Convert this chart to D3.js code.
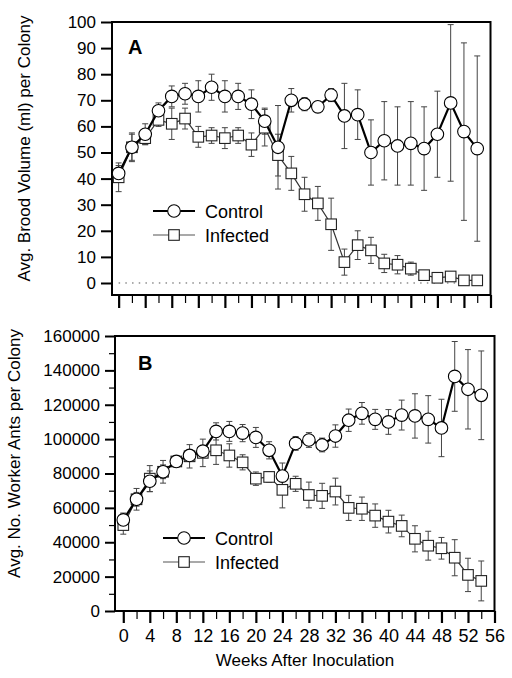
<!DOCTYPE html>
<html><head><meta charset="utf-8">
<script src="https://cdn.jsdelivr.net/npm/d3@7"></script>
<style>body{margin:0;background:#fff}svg{display:block}text{font-family:"Liberation Sans",Arial,sans-serif;fill:#000}</style>
</head><body><svg id="c" width="512" height="678"></svg>
<script>
const weeks = [0,2,4,6,8,10,12,14,16,18,20,22,24,26,28,30,32,34,36,38,40,42,44,46,48,50,52,54];
const broodControl = [42,52,57,66,71.5,72.5,71.5,75,71.5,71.5,68.5,62,52,70,68.5,67.5,72,64,64.5,50,54.5,52.5,53.5,51.5,57,69,58,51.5];
const broodControlErr = [3,5.5,4,3,4,4,6,5,6,5,5.5,5,16,4.5,2.5,2,2.5,12.5,9.5,12.5,15,15,16,16,16.5,30,34,35.5];
const broodInfected = [40.5,52,55.5,62.5,61,63,56,56.5,55.5,56.5,53,59.5,49,42,34,30.5,22.5,8,14.5,12.5,7.5,7,5.5,3,2,2.5,1,1];
const broodInfectedErr = [5.5,5,2.5,2.5,6,4,4,3,4,3,4.5,7,8,6.5,6.5,6.5,10,5,5.5,5,3.5,3.5,2.5,1,1,1,0.5,0.5];
const antsControl = [53000,65000,75500,81000,87000,90500,93000,104500,104500,103500,101000,93500,78500,97500,99500,96600,101800,111000,115000,111500,110000,114000,113500,111500,106500,136500,129000,125500];
const antsControlErr = [4000,4000,6000,4000,3000,3000,3000,5000,5800,5000,5800,5000,7600,4000,4300,4000,6500,6500,6300,5800,7200,8700,12900,13800,16700,20300,23100,25800];
const antsInfected = [50000,65000,77000,81000,87000,90000,92000,93500,90500,86500,77000,78000,70500,74000,67500,67000,69500,60000,59500,55500,52000,49500,42000,38000,36500,31000,21000,17500];
const antsInfectedErr = [5300,6300,7600,6600,3000,6800,8000,8200,6800,4400,3900,3000,10500,4400,7500,7300,7800,7300,6800,6800,6600,6300,7600,8400,6300,10500,9700,11600];
const xMajorTicks = [0,4,8,12,16,20,24,28,32,36,40,44,48,52,56];
const xMinorTicks = [2,6,10,14,18,22,26,30,34,38,42,46,50,54];
const broodTicks = [0,10,20,30,40,50,60,70,80,90,100];
const antsTicks = [0,20000,40000,60000,80000,100000,120000,140000,160000];
const antsMinorTicks = [10000,30000,50000,70000,90000,110000,130000,150000];
const seriesNames = ["Control","Infected"];

const svg = d3.select("#c");

function panel(cfg){
  const g = svg.append("g");
  const x = d3.scaleLinear().domain(cfg.xDomain).range([cfg.left, cfg.right]);
  const y = d3.scaleLinear().domain(cfg.yDomain).range([cfg.bottom, cfg.top]);
  const ya = g.append("g").attr("transform",`translate(${cfg.left},0)`)
    .call(d3.axisLeft(y).tickValues(cfg.yTicks).tickSize(cfg.yTickLen).tickSizeOuter(0).tickPadding(5).tickFormat(d3.format("d")));
  ya.select(".domain").remove();
  ya.selectAll("line").attr("stroke","#000").attr("stroke-width",2);
  ya.selectAll("text").attr("font-size",cfg.yFont).attr("font-family","Liberation Sans, Arial, sans-serif");
  if(cfg.yMinor){
    const ym = g.append("g").attr("transform",`translate(${cfg.left},0)`)
      .call(d3.axisLeft(y).tickValues(cfg.yMinor).tickSize(6).tickFormat(""));
    ym.select(".domain").remove();
    ym.selectAll("line").attr("stroke","#000").attr("stroke-width",1.2);
  }
  const xa = g.append("g").attr("transform",`translate(0,${cfg.bottom})`)
    .call(d3.axisBottom(x).tickValues(xMajorTicks).tickSize(cfg.xMajorLen).tickPadding(6).tickFormat(cfg.xLabels ? d3.format("d") : ""));
  xa.select(".domain").remove();
  xa.selectAll("line").attr("stroke","#000").attr("stroke-width",2.2);
  xa.selectAll("text").attr("font-size",18).attr("font-family","Liberation Sans, Arial, sans-serif");
  const xm = g.append("g").attr("transform",`translate(0,${cfg.bottom})`)
    .call(d3.axisBottom(x).tickValues(xMinorTicks).tickSize(8).tickFormat(""));
  xm.select(".domain").remove();
  xm.selectAll("line").attr("stroke","#000").attr("stroke-width",1.2);
  g.append("rect").attr("x",cfg.left).attr("y",cfg.top).attr("width",cfg.right-cfg.left).attr("height",cfg.bottom-cfg.top)
    .attr("fill","none").attr("stroke","#000").attr("stroke-width",2);
  if(cfg.zeroLine){
    g.append("line").attr("x1",x(0)).attr("x2",x(55)).attr("y1",y(0)).attr("y2",y(0))
      .attr("stroke","#555").attr("stroke-width",1).attr("stroke-dasharray","1.5,5.2");
  }
  g.append("text").attr("x",cfg.letterX).attr("y",cfg.letterY).attr("font-size",20).attr("font-weight","bold").text(cfg.letter);
  g.append("text").attr("transform",`translate(${cfg.titleX},${(cfg.top+cfg.bottom)/2+cfg.titleDY}) rotate(-90)`)
    .attr("text-anchor","middle").attr("font-size",17).text(cfg.yTitle);

  const series = [
    {vals:cfg.inf, err:cfg.infErr, shape:"square", lw:1.2, col:"#333"},
    {vals:cfg.ctl, err:cfg.ctlErr, shape:"circle", lw:2.2, col:"#000"}
  ];
  series.forEach(s=>{
    const eg = g.append("g");
    weeks.forEach((w,i)=>{
      const yt = y(s.vals[i]+s.err[i]), yb = y(Math.max(cfg.yDomain[0], s.vals[i]-s.err[i]));
      eg.append("line").attr("x1",x(w)).attr("x2",x(w)).attr("y1",yt).attr("y2",yb).attr("stroke","#444").attr("stroke-width",1);
      [yt,yb].forEach(yy=>eg.append("line").attr("x1",x(w)-3).attr("x2",x(w)+3).attr("y1",yy).attr("y2",yy).attr("stroke","#444").attr("stroke-width",1));
    });
  });
  const line = d3.line().x((d,i)=>x(weeks[i])).y(d=>y(d));
  series.forEach(s=>{
    g.append("path").attr("d",line(s.vals)).attr("fill","none").attr("stroke",s.col).attr("stroke-width",s.lw);
    weeks.forEach((w,i)=>{
      if(s.shape==="circle"){
        g.append("circle").attr("cx",x(w)).attr("cy",y(s.vals[i])).attr("r",6.3).attr("fill","#fff").attr("stroke","#000").attr("stroke-width",1.1);
      } else {
        g.append("rect").attr("x",x(w)-5.3).attr("y",y(s.vals[i])-5.3).attr("width",10.6).attr("height",10.6).attr("fill","#fff").attr("stroke","#222").attr("stroke-width",1.1);
      }
    });
  });
  const lg = g.append("g");
  const ly = [cfg.legY, cfg.legY+24];
  [0,1].forEach(k=>{
    const yy = ly[k];
    lg.append("line").attr("x1",cfg.legX).attr("x2",cfg.legX+42).attr("y1",yy).attr("y2",yy)
      .attr("stroke",k===0?"#000":"#555").attr("stroke-width",k===0?2.2:1.2);
    if(k===0) lg.append("circle").attr("cx",cfg.legX+21).attr("cy",yy).attr("r",6.3).attr("fill","#fff").attr("stroke","#000").attr("stroke-width",1.1);
    else lg.append("rect").attr("x",cfg.legX+21-5.3).attr("y",yy-5.3).attr("width",10.6).attr("height",10.6).attr("fill","#fff").attr("stroke","#222").attr("stroke-width",1.1);
    lg.append("text").attr("x",cfg.legX+52).attr("y",yy+6.5).attr("font-size",18).text(seriesNames[k]);
  });
  return {x,y};
}

panel({left:112,right:490.5,top:22,bottom:295,xDomain:[-1,56],yDomain:[-4.6,100],
  yTicks:broodTicks,yTickLen:11,yFont:17,xMajorLen:13,xLabels:false,zeroLine:true,
  letter:"A",letterX:128,letterY:54,yTitle:"Avg. Brood Volume (ml) per Colony",titleX:30,titleDY:-10,
  ctl:broodControl,ctlErr:broodControlErr,inf:broodInfected,infErr:broodInfectedErr,legX:153,legY:211});

panel({left:115,right:494.5,top:336,bottom:611,xDomain:[-1.25,56],yDomain:[0,160000],
  yTicks:antsTicks,yTickLen:10,yFont:17,yMinor:antsMinorTicks,xMajorLen:12,xLabels:true,zeroLine:false,
  letter:"B",letterX:138,letterY:370,yTitle:"Avg. No. Worker Ants per Colony",titleX:20,titleDY:-20,
  ctl:antsControl,ctlErr:antsControlErr,inf:antsInfected,infErr:antsInfectedErr,legX:163,legY:538});

svg.append("text").attr("x",305).attr("y",666).attr("text-anchor","middle").attr("font-size",17).text("Weeks After Inoculation");
</script></body></html>
